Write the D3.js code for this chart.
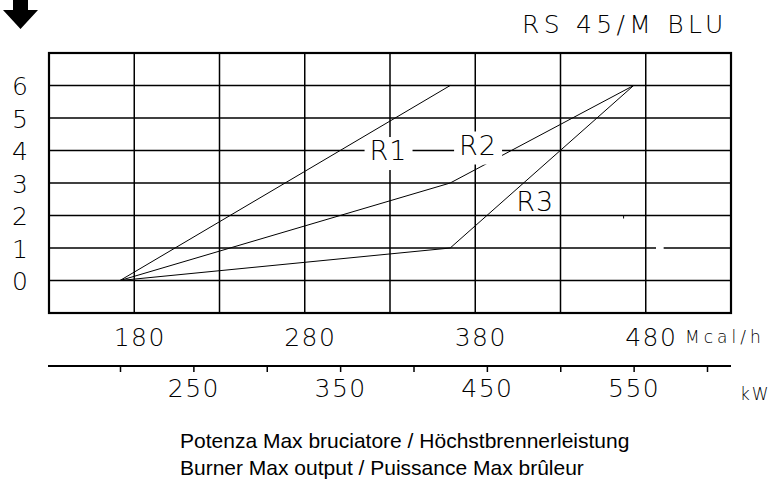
<!DOCTYPE html>
<html>
<head>
<meta charset="utf-8">
<script src="https://cdn.jsdelivr.net/npm/d3@7"></script>
<style>
  body { margin: 0; background: #fff; }
  .cad { font-family: "DejaVu Sans", sans-serif; font-weight: 200; fill: #000; }
</style>
</head>
<body>
<div id="chart"></div>
<script>
// data
var title = "RS 45/M BLU";
var pressureTicks = [0, 1, 2, 3, 4, 5, 6];
var mcalTicks = [180, 280, 380, 480];
var kwTicks = [200, 250, 300, 350, 400, 450, 500, 550, 600];
var kwLabels = [250, 350, 450, 550];
var seriesNames = ["R1", "R2", "R3"];
var r1 = [[200, 0], [425, 6]];
var r2 = [[200, 0], [425, 3], [550, 6]];
var r3 = [[200, 0], [425, 1], [550, 6]];
var footer = ["Potenza Max bruciatore / Höchstbrennerleistung",
              "Burner Max output / Puissance Max brûleur"];

var svgWidth = 775;
var svgHeight = 480;

var svg = d3.select("#chart")
  .append("svg")
  .attr("width", svgWidth)
  .attr("height", svgHeight);

// scales: Mcal/h drives the grid, kW drives the curves
var xM = d3.scaleLinear().domain([130, 530]).range([49, 731]);
var xK = d3.scaleLinear().domain([200, 600]).range([120, 707]);
var y = d3.scaleLinear().domain([-1, 7]).range([313, 53]);

// arrow top left
svg.append("path")
  .attr("d", "M13,0 H28 V10 H38 L20.5,29 L3,10 H13 Z")
  .attr("fill", "#000");

// title
svg.append("text")
  .attr("class", "cad")
  .attr("x", 522)
  .attr("y", 33)
  .style("font-size", "25px")
  .style("letter-spacing", "4.3px")
  .text(title);

// grid
var grid = svg.append("g");
grid.selectAll(".v")
  .data(d3.range(180, 481, 50))
  .enter().append("line")
  .attr("x1", d => xM(d)).attr("x2", d => xM(d))
  .attr("y1", y(7)).attr("y2", y(-1))
  .attr("stroke", "#000").attr("stroke-width", 1.5);
grid.selectAll(".h")
  .data(d3.range(0, 7))
  .enter().append("line")
  .attr("x1", xM(130)).attr("x2", xM(530))
  .attr("y1", d => y(d)).attr("y2", d => y(d))
  .attr("stroke", "#000").attr("stroke-width", 1.5);
grid.append("rect")
  .attr("x", xM(130)).attr("y", y(7))
  .attr("width", xM(530) - xM(130)).attr("height", y(-1) - y(7))
  .attr("fill", "none").attr("stroke", "#000").attr("stroke-width", 2.2);

// small drafting leftovers on the grid
grid.append("line")
  .attr("x1", xM(486)).attr("x2", xM(490.5))
  .attr("y1", y(1)).attr("y2", y(1))
  .attr("stroke", "#fff").attr("stroke-width", 3);
grid.append("line")
  .attr("x1", xM(467)).attr("x2", xM(467))
  .attr("y1", y(2)).attr("y2", y(2) + 3)
  .attr("stroke", "#000").attr("stroke-width", 1);

// series labels (R1 and R2 are knocked out of the grid)
var labelAt = [[383, 4.03, true], [444, 4.2, true], [483, 2.45, false]];
var labels = svg.append("g");
seriesNames.forEach(function(name, i) {
  var p = labelAt[i];
  var t = labels.append("text")
    .attr("class", "cad")
    .attr("x", xK(p[0]))
    .attr("y", y(p[1]) + 10.5)
    .attr("text-anchor", "middle")
    .style("font-size", "27px")
    .style("letter-spacing", "1px")
    .text(name);
  if (p[2]) {
    var b = t.node().getBBox();
    labels.insert("rect", "text")
      .attr("x", b.x - 5).attr("y", b.y + 2)
      .attr("width", b.width + 10).attr("height", b.height + 2)
      .attr("fill", "#fff");
  }
});

// curves
var line = d3.line()
  .x(d => xK(d[0]))
  .y(d => y(d[1]));
svg.selectAll(".curve")
  .data([r1, r2, r3])
  .enter().append("path")
  .attr("d", line)
  .attr("fill", "none")
  .attr("stroke", "#000")
  .attr("stroke-width", 1);
labels.raise();
labels.selectAll("rect").lower();

// y labels
var leftAxis = d3.axisLeft(y).tickValues(pressureTicks).tickSize(0).tickPadding(0);
svg.append("g")
  .attr("transform", "translate(20,0)")
  .call(leftAxis)
  .call(g => g.select(".domain").remove())
  .selectAll("text")
  .attr("class", "cad")
  .attr("text-anchor", "middle")
  .attr("dy", "0.36em")
  .attr("font-family", null)
  .style("font-size", "25px");

// Mcal/h labels
var mcalAxis = d3.axisBottom(xM).tickValues(mcalTicks).tickSize(0).tickPadding(0);
svg.append("g")
  .attr("transform", "translate(5,346)")
  .call(mcalAxis)
  .call(g => g.select(".domain").remove())
  .selectAll("text")
  .attr("class", "cad")
  .attr("dy", 0)
  .attr("y", 0)
  .attr("font-family", null)
  .style("font-size", "25px")
  .style("letter-spacing", "1.5px");

svg.append("text")
  .attr("class", "cad")
  .attr("x", 685)
  .attr("y", 343)
  .style("font-size", "17px")
  .style("letter-spacing", "4px")
  .text("Mcal/h");

// kW axis
svg.append("line")
  .attr("x1", 48).attr("x2", 731)
  .attr("y1", 366).attr("y2", 366)
  .attr("stroke", "#000").attr("stroke-width", 2);

var kwAxis = d3.axisBottom(xK)
  .tickValues(kwTicks)
  .tickSize(6)
  .tickPadding(0)
  .tickFormat(d => kwLabels.indexOf(d) >= 0 ? d : "");
var kw = svg.append("g")
  .attr("transform", "translate(0,366)")
  .call(kwAxis)
  .call(g => g.select(".domain").remove());
kw.selectAll("line").attr("stroke", "#000").attr("stroke-width", 1.5);
kw.selectAll("text")
  .attr("class", "cad")
  .attr("y", 31)
  .attr("dy", 0)
  .attr("font-family", null)
  .style("font-size", "25px")
  .style("letter-spacing", "1.5px");

svg.append("text")
  .attr("class", "cad")
  .attr("x", 740)
  .attr("y", 400)
  .style("font-size", "17px")
  .style("letter-spacing", "2px")
  .text("kW");

// footer
svg.selectAll(".foot")
  .data(footer)
  .enter().append("text")
  .attr("x", 180)
  .attr("y", (d, i) => 448 + i * 27)
  .style("font-family", "'Liberation Sans', Arial, sans-serif")
  .style("font-size", "21px")
  .style("fill", "#000")
  .text(d => d);
</script>
</body>
</html>
